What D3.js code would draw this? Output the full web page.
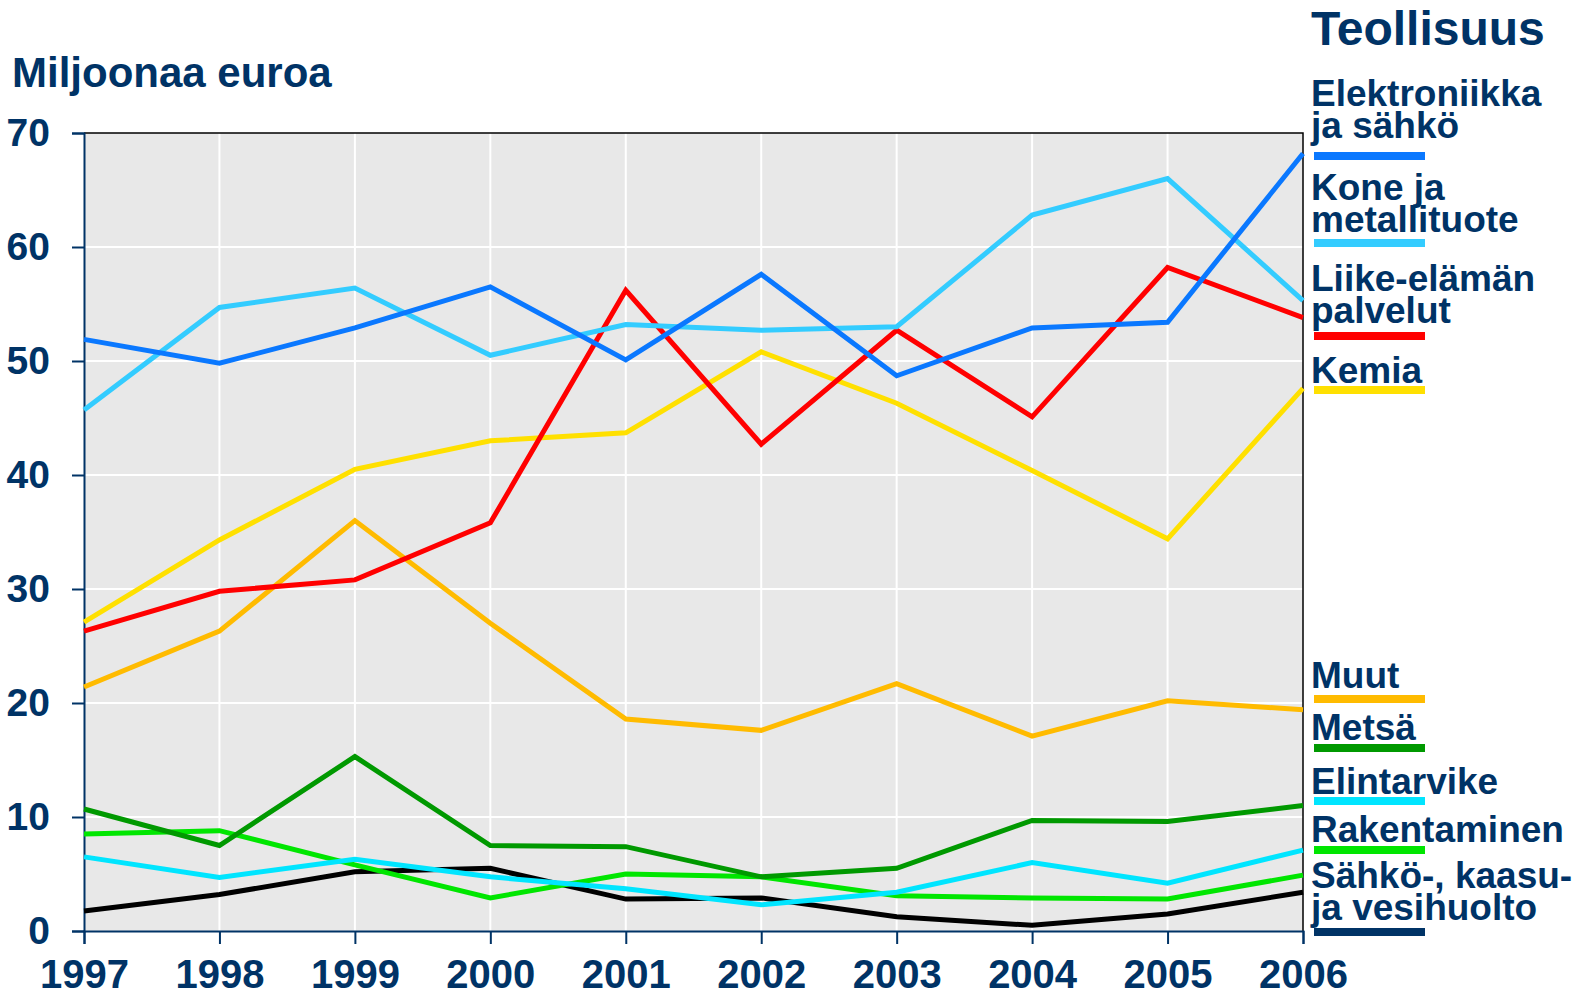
<!doctype html>
<html lang="fi">
<head>
<meta charset="UTF-8">
<title>Teollisuus</title>
<script src="https://d3js.org/d3.v7.min.js"></script>
<style>
  body { margin: 0; background: #fff; }
  svg text { font-family: "Liberation Sans", Arial, Helvetica, sans-serif; font-weight: bold; fill: #003366; }
</style>
</head>
<body>
<svg width="1579" height="997"></svg>
<script>

// data, million euro
var years = [1997, 1998, 1999, 2000, 2001, 2002, 2003, 2004, 2005, 2006];
var yTicks = [0, 10, 20, 30, 40, 50, 60, 70];

var elektroniikka = [51.9, 49.8, 52.9, 56.5, 50.1, 57.6, 48.7, 52.9, 53.4, 68.2];
var kone          = [45.7, 54.7, 56.4, 50.5, 53.2, 52.7, 53.0, 62.8, 66.0, 55.3];
var liike         = [26.3, 29.8, 30.8, 35.8, 56.2, 42.7, 52.7, 45.1, 58.2, 53.8];
var kemia         = [27.1, 34.3, 40.5, 43.0, 43.7, 50.8, 46.3, 40.4, 34.4, 47.6];
var muut          = [21.4, 26.3, 36.0, 27.0, 18.6, 17.6, 21.7, 17.1, 20.2, 19.4];
var metsa         = [10.7, 7.5, 15.3, 7.5, 7.4, 4.75, 5.5, 9.7, 9.6, 11.0];
var elintarvike   = [6.5, 4.7, 6.3, 4.75, 3.7, 2.3, 3.4, 6.0, 4.2, 7.1];
var rakentaminen  = [8.5, 8.8, 5.8, 2.9, 5.0, 4.75, 3.1, 2.9, 2.8, 4.9];
var sahko         = [1.75, 3.2, 5.2, 5.5, 2.8, 2.9, 1.25, 0.5, 1.5, 3.4];

var labels = [
  ["Elektroniikka", "ja sähkö"],
  ["Kone ja", "metallituote"],
  ["Liike-elämän", "palvelut"],
  ["Kemia"],
  ["Muut"],
  ["Metsä"],
  ["Elintarvike"],
  ["Rakentaminen"],
  ["Sähkö-, kaasu-", "ja vesihuolto"]
];
var values = [elektroniikka, kone, liike, kemia, muut, metsa, elintarvike, rakentaminen, sahko];

// styling / legend layout
var lineColors   = ["#0a78ff", "#33ccff", "#ff0000", "#ffe000", "#ffbb00", "#009900", "#00e5ff", "#00e600", "#000000"];
var swatchColors = ["#0a78ff", "#33ccff", "#ff0000", "#ffe000", "#ffbb00", "#009900", "#00e5ff", "#00e600", "#003366"];
var swatchY      = [156, 243, 336, 390, 699, 748, 801, 850, 932];
var lastBaseline = [138, 232, 323, 383, 688, 740, 794, 842, 920];

var svg = d3.select("svg");
var plotLeft = 84, plotRight = 1303, plotTop = 133, plotBottom = 931;

var x = d3.scaleLinear().domain([1997, 2006]).range([plotLeft, plotRight]);
var y = d3.scaleLinear().domain([0, 70]).range([plotBottom, plotTop]);

// plot background
svg.append("rect")
    .attr("x", plotLeft).attr("y", plotTop)
    .attr("width", plotRight - plotLeft).attr("height", plotBottom - plotTop)
    .attr("fill", "#e8e8e8");

// grid
svg.append("g").selectAll("line")
    .data(yTicks.slice(1, -1))
    .join("line")
    .attr("x1", plotLeft).attr("x2", plotRight)
    .attr("y1", function (d) { return y(d); })
    .attr("y2", function (d) { return y(d); })
    .attr("stroke", "#fff").attr("stroke-width", 2);

svg.append("g").selectAll("line")
    .data(years.slice(1, -1))
    .join("line")
    .attr("y1", plotTop).attr("y2", plotBottom)
    .attr("x1", function (d) { return x(d); })
    .attr("x2", function (d) { return x(d); })
    .attr("stroke", "#fff").attr("stroke-width", 2);

// top / right frame
svg.append("path")
    .attr("d", "M" + plotLeft + "," + plotTop + "H" + plotRight + "V" + plotBottom)
    .attr("fill", "none").attr("stroke", "#000").attr("stroke-width", 1.5);

// axes
var yAxis = svg.append("g")
    .attr("transform", "translate(" + plotLeft + ",0)")
    .call(d3.axisLeft(y).tickValues(yTicks).tickSize(12).tickPadding(22));
var xAxis = svg.append("g")
    .attr("transform", "translate(0," + plotBottom + ")")
    .call(d3.axisBottom(x).tickValues(years).tickFormat(d3.format("d")).tickSize(13).tickPadding(16));

[yAxis, xAxis].forEach(function (a) {
  a.select(".domain").attr("stroke", "#003366").attr("stroke-width", 2);
  a.selectAll(".tick line").attr("stroke", "#003366").attr("stroke-width", 2);
  a.selectAll(".tick text").attr("fill", "#003366").style("font-size", "39px");
});
xAxis.selectAll(".tick text").style("font-size", "40px").attr("dy", "0.71em");

// lines, first series drawn last so it sits on top
var line = d3.line()
    .x(function (d, i) { return x(years[i]); })
    .y(function (d) { return y(d); });

svg.append("g").selectAll("path")
    .data(d3.range(values.length).reverse())
    .join("path")
    .attr("d", function (k) { return line(values[k]); })
    .attr("fill", "none")
    .attr("stroke", function (k) { return lineColors[k]; })
    .attr("stroke-width", 5);

// titles
svg.append("text")
    .attr("x", 12).attr("y", 87)
    .style("font-size", "42px")
    .text("Miljoonaa euroa");

svg.append("text")
    .attr("x", 1311).attr("y", 45)
    .style("font-size", "48px")
    .text("Teollisuus");

// legend
var leg = svg.append("g").selectAll("g")
    .data(labels)
    .join("g");

leg.append("rect")
    .attr("x", 1314).attr("width", 111)
    .attr("y", function (d, i) { return swatchY[i] - 4; })
    .attr("height", 8)
    .attr("fill", function (d, i) { return swatchColors[i]; });

leg.each(function (d, i) {
  var g = d3.select(this);
  var base = lastBaseline[i] - (d.length - 1) * 32;
  d.forEach(function (t, j) {
    g.append("text")
        .attr("x", 1311)
        .attr("y", base + j * 32)
        .style("font-size", "37px")
        .text(t);
  });
});

</script>
</body>
</html>
